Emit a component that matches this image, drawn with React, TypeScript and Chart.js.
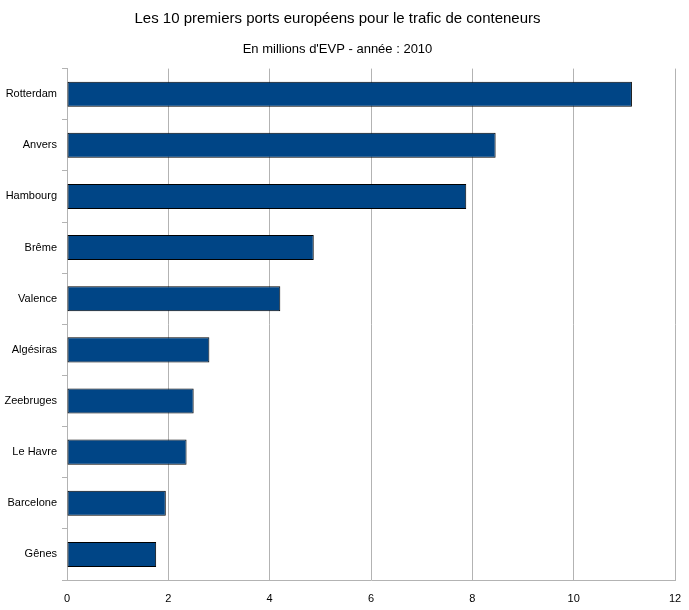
import { useEffect, useRef } from "react"
import { Chart, registerables } from "chart.js"

Chart.register(...registerables)

const ports = ["Rotterdam", "Anvers", "Hambourg", "Brême", "Valence", "Algésiras", "Zeebruges", "Le Havre", "Barcelone", "Gênes"]
const trafic = [11.15, 8.46, 7.88, 4.87, 4.21, 2.81, 2.5, 2.36, 1.95, 1.76]
const xTicks = [0, 2, 4, 6, 8, 10, 12]

const FONT = "'Liberation Sans', Arial, sans-serif"

export default function App() {
  const chartRef = useRef<HTMLCanvasElement>(null)
  const chartInstance = useRef<Chart | null>(null)

  useEffect(() => {
    document.body.style.margin = "0"
    if (!chartRef.current) return
    const ctx = chartRef.current.getContext("2d")
    if (!ctx) return

    chartInstance.current = new Chart(ctx, {
      type: "bar",
      data: {
        labels: ports,
        datasets: [
          {
            label: "Trafic",
            data: trafic,
            backgroundColor: "#004586",
            borderColor: "#000000",
            borderWidth: 1,
            borderSkipped: false,
            categoryPercentage: 1,
            barPercentage: 0.49,
          },
        ],
      },
      options: {
        indexAxis: "y",
        animation: false,
        responsive: true,
        maintainAspectRatio: false,
        layout: { padding: { left: 0, right: 14, top: 10, bottom: 0 } },
        scales: {
          x: {
            min: 0,
            max: 12,
            afterBuildTicks: (scale) => {
              scale.ticks = xTicks.map((v) => ({ value: v }))
            },
            afterFit: (scale) => {
              scale.height = 30
              scale.paddingLeft = 0
              scale.paddingRight = 0
            },
            grid: { color: "#b3b3b3", drawTicks: false },
            border: { color: "#b3b3b3" },
            ticks: { color: "#000", font: { family: FONT, size: 11 }, padding: 12, maxRotation: 0 },
          },
          y: {
            afterFit: (scale) => {
              scale.width = 67
            },
            grid: { color: "#b3b3b3", drawOnChartArea: false, drawTicks: true, tickLength: 5, offset: true },
            border: { color: "#b3b3b3" },
            ticks: { color: "#000", font: { family: FONT, size: 11 }, padding: 5 },
          },
        },
        plugins: {
          legend: { display: false },
          tooltip: { enabled: false },
          title: {
            display: true,
            text: "Les 10 premiers ports européens pour le trafic de conteneurs",
            color: "#000",
            font: { family: FONT, size: 15, weight: "normal" },
            padding: { top: 0, bottom: 14 },
          },
          subtitle: {
            display: true,
            text: "En millions d'EVP - année : 2010",
            color: "#000",
            font: { family: FONT, size: 13, weight: "normal" },
            padding: { top: 0, bottom: 11 },
          },
        },
      },
    })

    return () => {
      if (chartInstance.current) {
        chartInstance.current.destroy()
      }
    }
  }, [])

  return (
    <div style={{ width: 689, height: 610, position: "relative" }}>
      <canvas ref={chartRef} />
    </div>
  )
}
